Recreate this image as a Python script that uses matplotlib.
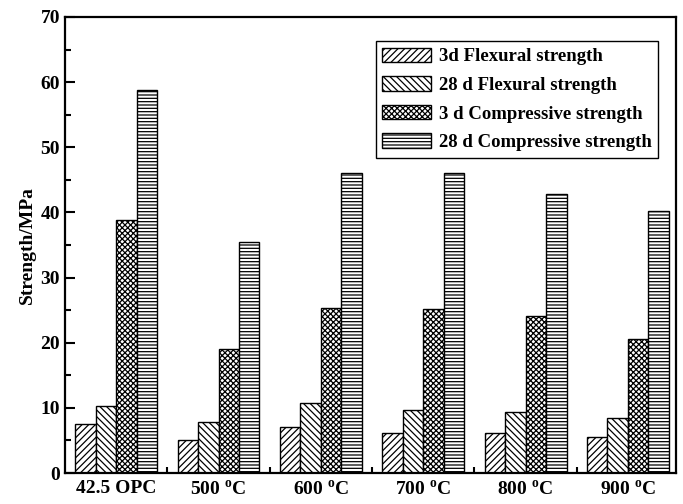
import numpy as np
import matplotlib
matplotlib.use("Agg")
import matplotlib.pyplot as plt
from matplotlib.ticker import MultipleLocator, FixedLocator

plt.rcParams["font.family"] = ["Liberation Serif", "DejaVu Serif"]
plt.rcParams["font.weight"] = "bold"
plt.rcParams["mathtext.fontset"] = "custom"
plt.rcParams["mathtext.rm"] = "Liberation Serif:bold"
plt.rcParams["mathtext.bf"] = "Liberation Serif:bold"
plt.rcParams["hatch.linewidth"] = 0.9
plt.rcParams["hatch.color"] = "black"

groups = ["42.5 OPC", r"500 $^{\rm o}$C", r"600 $^{\rm o}$C", r"700 $^{\rm o}$C",
          r"800 $^{\rm o}$C", r"900 $^{\rm o}$C"]
flex_3d = [7.5, 5.1, 7.0, 6.1, 6.1, 5.6]
flex_28d = [10.3, 7.8, 10.7, 9.6, 9.4, 8.4]
comp_3d = [38.9, 19.0, 25.3, 25.2, 24.1, 20.6]
comp_28d = [58.8, 35.5, 46.1, 46.0, 42.8, 40.2]
series_names = ["3d Flexural strength", "28 d Flexural strength",
                "3 d Compressive strength", "28 d Compressive strength"]

fig = plt.figure(figsize=(6.83, 5.04), dpi=100)
ax = fig.add_axes([0.0952, 0.0615, 0.8946, 0.9048])

x = np.arange(len(groups))
w = 0.2
hatches = ["/////", "\\\\\\\\\\", "xxxxxx", "-----"]
for i, (vals, name) in enumerate(zip([flex_3d, flex_28d, comp_3d, comp_28d], series_names)):
    ax.bar(x + (i - 1.5) * w, vals, w, color="white", edgecolor="black",
           linewidth=1.0, hatch=hatches[i], label=name)

ax.set_xlim(-0.5, 5.47)
ax.set_ylim(0, 70)
ax.set_xticks(x)
ax.set_xticklabels(groups, fontsize=14, fontweight="bold")
ax.xaxis.set_minor_locator(FixedLocator(x[:-1] + 0.5))
ax.yaxis.set_major_locator(MultipleLocator(10))
ax.yaxis.set_minor_locator(MultipleLocator(5))
ax.tick_params(axis="x", which="major", length=0, pad=5)
ax.tick_params(axis="x", which="minor", direction="in", length=4, width=1.5)
ax.tick_params(axis="y", which="major", direction="in", length=7, width=1.5, labelsize=14)
ax.tick_params(axis="y", which="minor", direction="in", length=4, width=1.5)
for lab in ax.get_yticklabels():
    lab.set_fontweight("bold")
for s in ax.spines.values():
    s.set_linewidth(1.6)

ax.set_ylabel("Strength/MPa", fontsize=14, fontweight="bold", labelpad=3)

leg = ax.legend(loc="upper right", bbox_to_anchor=(0.9705, 0.947), borderaxespad=0,
                fancybox=False, edgecolor="black", framealpha=1,
                prop={"size": 13.5, "weight": "bold"},
                handlelength=2.6, handleheight=0.8, labelspacing=0.58,
                handletextpad=0.4, borderpad=0.35)
leg.get_frame().set_linewidth(1.0)

fig.savefig("out.png", dpi=100)
